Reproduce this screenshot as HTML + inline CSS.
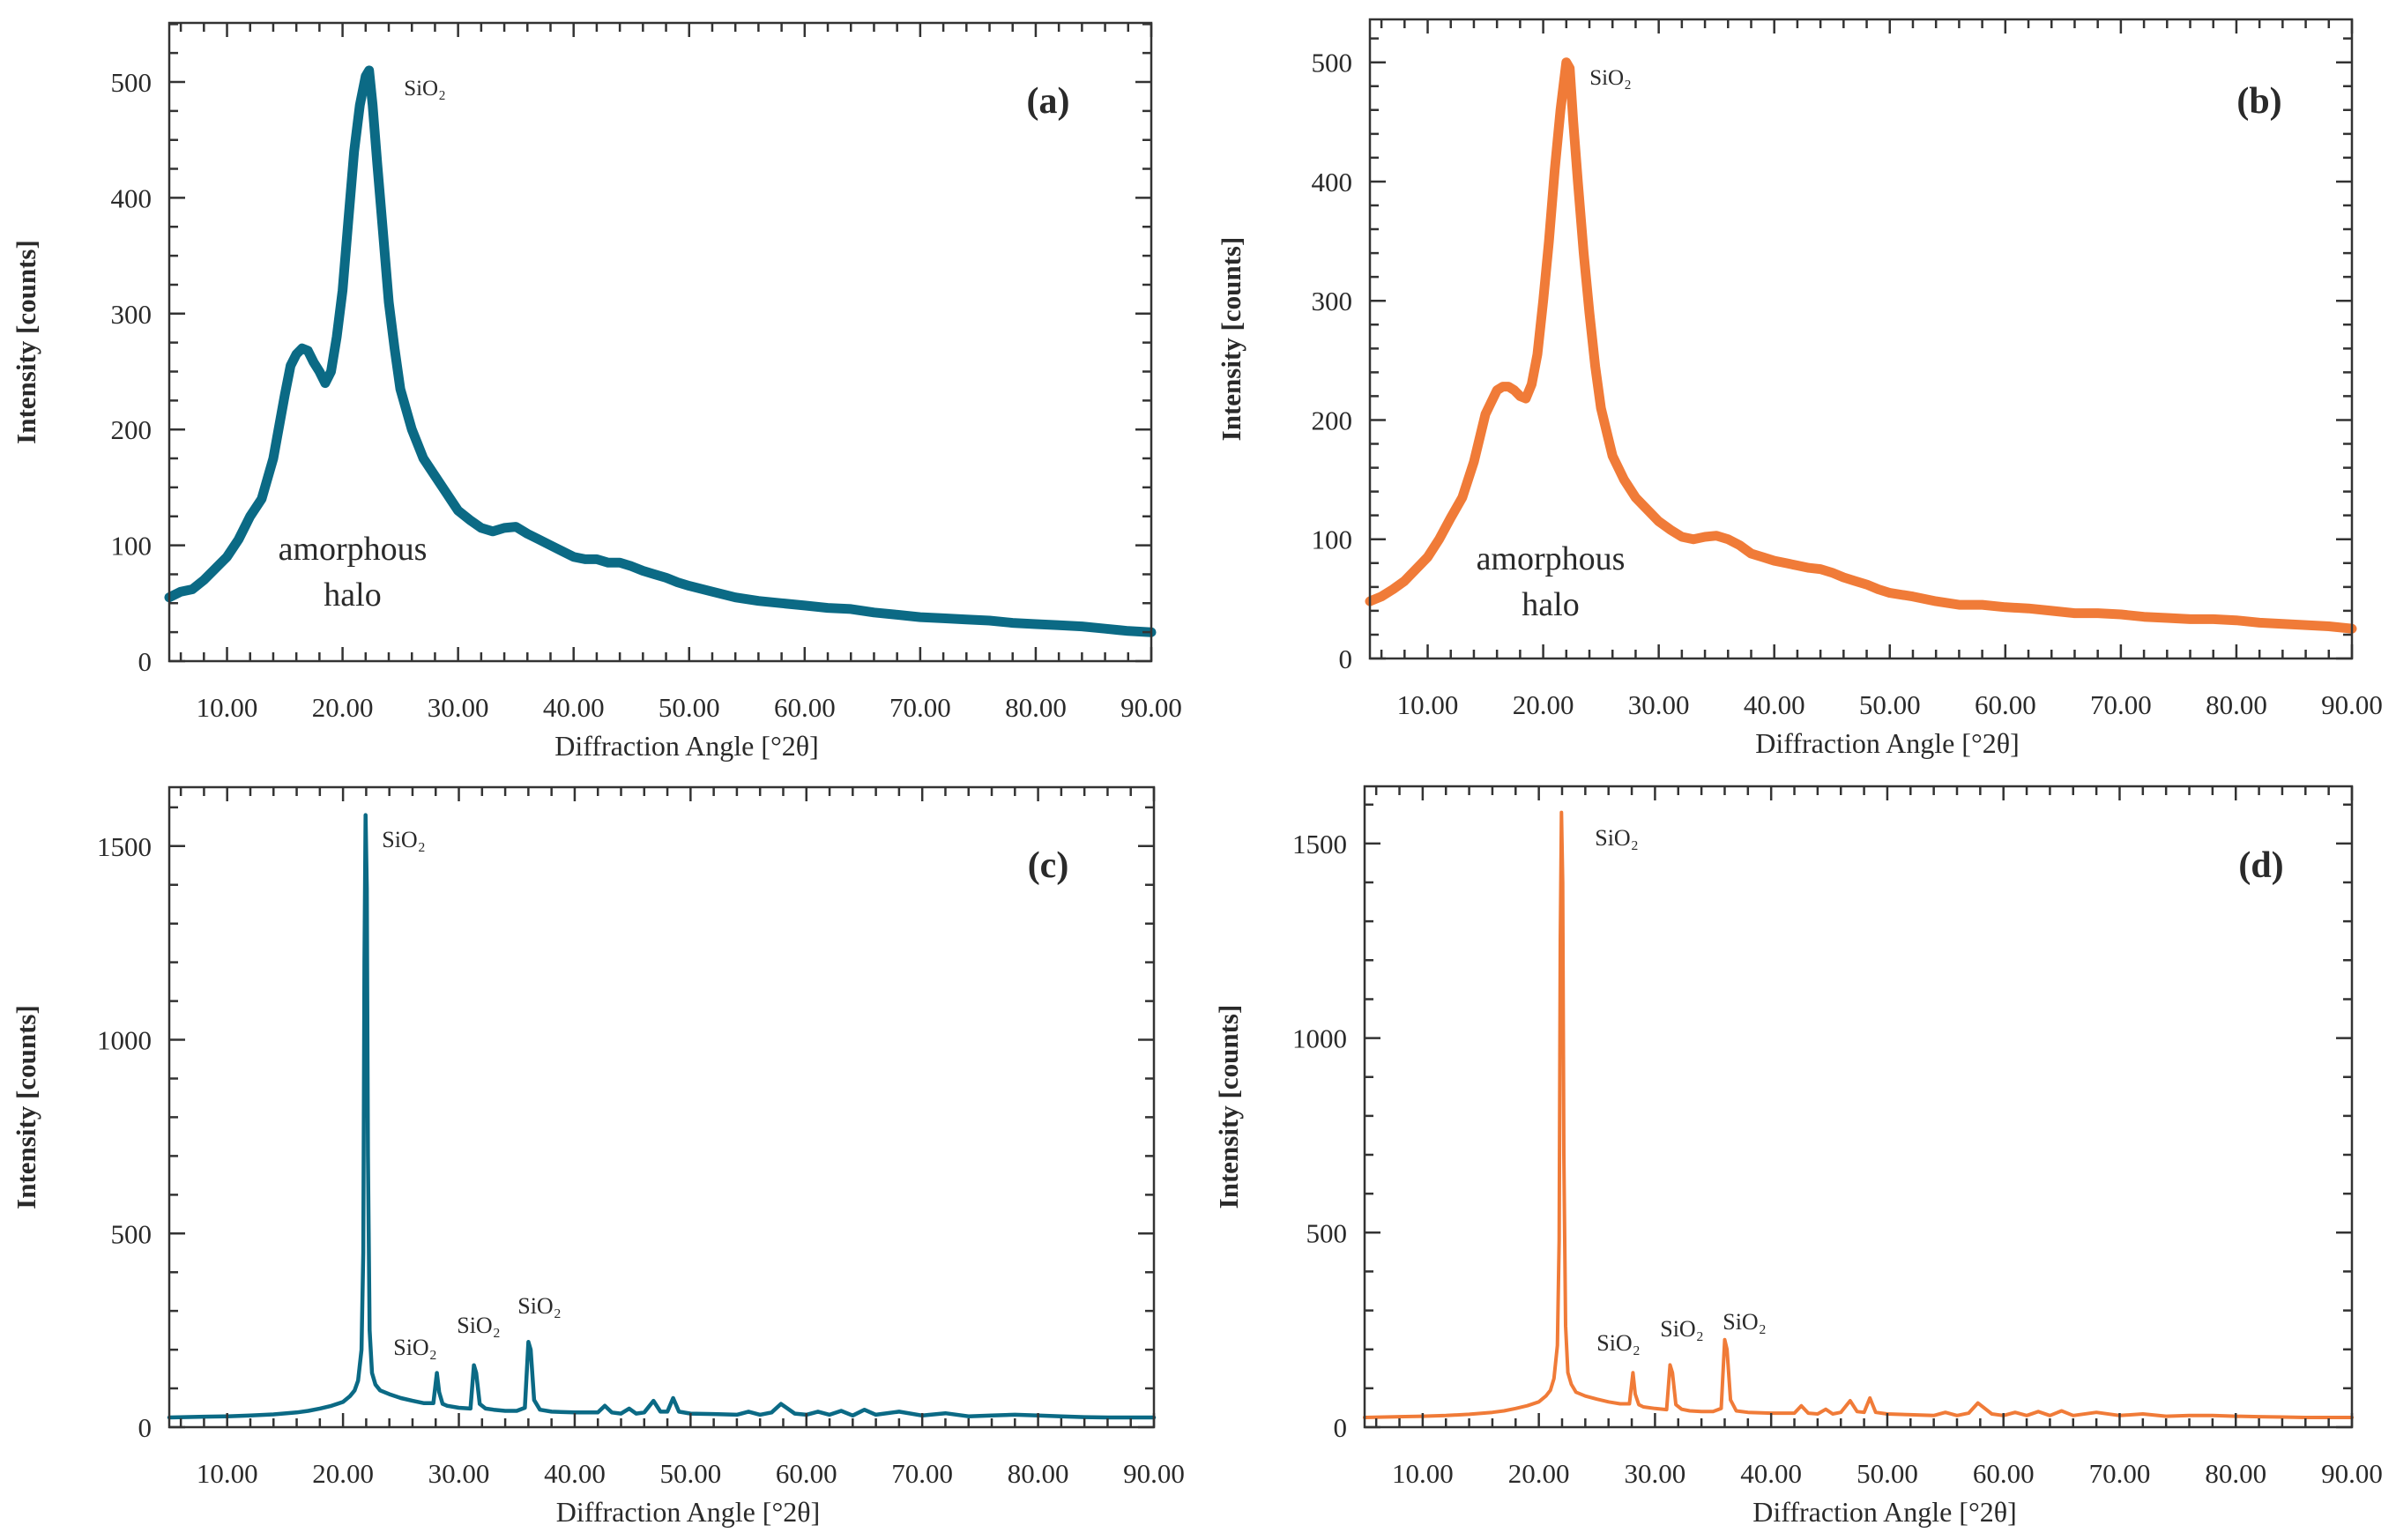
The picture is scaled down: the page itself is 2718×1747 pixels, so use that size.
<!DOCTYPE html>
<html><head><meta charset="utf-8"><style>
html,body{margin:0;padding:0;background:#fff;}
svg{display:block;}
text{font-family:"Liberation Serif",serif;fill:#2a2a2a;}
</style></head><body>
<svg id="fig" width="2718" height="1747" viewBox="0 0 2718 1747" xmlns="http://www.w3.org/2000/svg"></svg>
<script>
// ---- data (angle in °2θ, intensity in counts) ----
const xTicks = [10,20,30,40,50,60,70,80,90];
const xTickLabels = ["10.00","20.00","30.00","40.00","50.00","60.00","70.00","80.00","90.00"];
const yTicksAB = [0,100,200,300,400,500];
const yTicksCD = [0,500,1000,1500];

const angA = [5,6,7,8,9,10,11,12,13,14,15,15.5,16,16.5,17,17.5,18,18.5,19,19.5,20,20.5,21,21.5,22,22.3,22.6,23,23.5,24,24.5,25,26,27,28,29,30,31,32,33,34,35,36,37,38,39,40,41,42,43,44,45,46,47,48,49,50,52,54,56,58,60,62,64,66,68,70,72,74,76,78,80,82,84,86,88,90];
const intA = [55,60,62,70,80,90,105,125,140,175,230,255,265,270,268,258,250,240,250,280,320,380,440,480,505,510,480,430,370,310,270,235,200,175,160,145,130,122,115,112,115,116,110,105,100,95,90,88,88,85,85,82,78,75,72,68,65,60,55,52,50,48,46,45,42,40,38,37,36,35,33,32,31,30,28,26,25];

const angB = [5,6,7,8,9,10,11,12,13,14,15,15.5,16,16.5,17,17.5,18,18.5,19,19.5,20,20.5,21,21.5,22,22.3,22.6,23,23.5,24,24.5,25,26,27,28,29,30,31,32,33,34,35,36,37,38,39,40,41,42,43,44,45,46,47,48,49,50,52,54,56,58,60,62,64,66,68,70,72,74,76,78,80,82,84,86,88,90];
const intB = [48,52,58,65,75,85,100,118,135,165,205,215,225,228,228,225,220,218,230,255,300,350,410,460,500,495,450,400,340,290,245,210,170,150,135,125,115,108,102,100,102,103,100,95,88,85,82,80,78,76,75,72,68,65,62,58,55,52,48,45,45,43,42,40,38,38,37,35,34,33,33,32,30,29,28,27,25];

const angC = [5,8,10,12,14,16,17,18,19,20,20.6,21,21.3,21.6,21.75,21.85,21.95,22.05,22.15,22.3,22.5,22.8,23.2,24,25,26,27,27.8,28.1,28.3,28.6,29,30,31,31.3,31.5,31.8,32.3,33,34,35,35.7,36,36.2,36.5,37,38,40,42,42.6,43.2,44,44.7,45.3,46,46.8,47.4,48,48.5,49,50,52,54,55,56,57,57.8,59,60,61,62,63,64,65,66,68,70,72,74,76,78,80,82,84,86,88,90];
const intC = [25,27,28,30,33,38,42,48,55,65,80,95,120,200,450,1200,1580,1390,700,250,140,110,95,85,75,68,62,62,140,90,60,55,50,48,160,140,60,48,45,42,42,50,220,200,70,45,40,38,38,55,38,35,48,35,38,68,40,40,75,40,35,34,32,40,32,38,60,35,32,40,32,42,30,45,32,40,30,36,28,30,32,30,28,26,25,25,25];

const angD = [5,8,10,12,14,16,17,18,19,20,20.6,21,21.3,21.6,21.75,21.85,21.95,22.05,22.15,22.3,22.5,22.8,23.2,24,25,26,27,27.8,28.1,28.3,28.6,29,30,31,31.3,31.5,31.8,32.3,33,34,35,35.7,36,36.2,36.5,37,38,40,42,42.6,43.2,44,44.7,45.3,46,46.8,47.4,48,48.5,49,50,52,54,55,56,57,57.8,59,60,61,62,63,64,65,66,68,70,72,74,76,78,80,82,84,86,88,90];
const intD = [25,27,28,30,33,38,42,48,55,65,80,95,125,210,480,1250,1580,1400,700,260,140,110,90,80,72,65,60,60,140,85,58,52,48,45,160,140,58,46,42,40,40,48,225,200,70,42,38,36,36,55,36,34,46,34,38,68,40,38,75,38,34,32,30,38,30,36,62,34,30,38,30,40,30,42,30,38,30,34,28,30,30,28,27,26,25,25,25];

const svgNS = "http://www.w3.org/2000/svg";
const fig = document.getElementById('fig');
function mk(tag, attrs, parent){
  const e = document.createElementNS(svgNS, tag);
  for (const k in attrs) e.setAttribute(k, attrs[k]);
  (parent||fig).appendChild(e);
  return e;
}
function txt(parent, s, x, y, size, opts){
  const t = mk('text', Object.assign({x:x, y:y, 'font-size':size}, opts||{}), parent);
  t.textContent = s;
  return t;
}

function panel(p){
  const g = mk('g', {});
  
  
  const L=p.L, R=p.R, T=p.T, B=p.B;
  const sx = v => L + (v-5)/(90-5)*(R-L);
  const sy = v => B - v/p.ymax*(B-T);
  let d = '';
  for (let i=0;i<p.ang.length;i++) d += (i?'L':'M') + sx(p.ang[i]).toFixed(1) + ' ' + sy(p.ints[i]).toFixed(1);
  const line = mk('path', {d:d, fill:'none', stroke:p.color, 'stroke-width':p.sw, 'stroke-linejoin':'round', 'stroke-linecap':'round'}, g);
  
  
  const fr = mk('rect', {x:L, y:T, width:R-L, height:B-T, fill:'none', stroke:'#333', 'stroke-width':2.5}, g);
  
  
  let td = '';
  for (let v=6; v<=90; v+=2){
    const x = sx(v); const len = (v%10===0)?16:10;
    td += `M${x} ${B}V${B-len}M${x} ${T}V${T+len}`;
  }
  for (let v=0; v<=p.ymax; v+=p.minor){
    const y = sy(v); const major = (v % p.major === 0); const len = major?18:10;
    td += `M${L} ${y}H${L+len}M${R} ${y}H${R-len}`;
  }
  mk('path', {d:td, stroke:'#333', 'stroke-width':2.5, fill:'none'}, g);
  xTicks.forEach((v,i)=>{
    const t = txt(g, xTickLabels[i], sx(v), B+63, 31, {'text-anchor':'middle'});
    
    
  });
  p.yt.forEach(v=>{
    const t = txt(g, String(v), L-20, sy(v)+11, 31, {'text-anchor':'end'});
    
    
  });
  const xt = txt(g, 'Diffraction Angle [°2θ]', (L+R)/2+30, B+107, 32, {'text-anchor':'middle'});
  
  
  const cy = (T+B)/2;
  const yt = txt(g, 'Intensity [counts]', 0, 0, 31, {'text-anchor':'middle','font-weight':'bold', transform:`translate(${p.ytx},${cy}) rotate(-90)`});
  
  
  const pl = txt(g, '('+p.id+')', p.lab[0], p.lab[1], 42, {'text-anchor':'middle','font-weight':'bold'});
  
  
  p.sio.forEach(s=>{
    const t = txt(g, 'SiO₂', s[0], s[1], s[2], {'text-anchor':'middle'});
    
    
  });
  if (p.halo){
    const a = txt(g, 'amorphous', p.halo[0], p.halo[1], 38, {'text-anchor':'middle'});
    
    
    const h = txt(g, 'halo', p.halo[0], p.halo[1]+52, 38, {'text-anchor':'middle'});
    
    
  }
}

panel({id:'a', L:192, R:1306, T:26, B:750, ymax:551, major:100, minor:25, yt:yTicksAB, ang:angA, ints:intA, color:'#0b6a85', sw:11, ytx:40, lab:[1189,128], sio:[[482,108,25]], halo:[400,635]});
panel({id:'b', L:1554, R:2668, T:22, B:747, ymax:536, major:100, minor:20, yt:yTicksAB, ang:angB, ints:intB, color:'#f07b38', sw:11, ytx:1407, lab:[2563,128], sio:[[1827,96,25]], halo:[1759,646]});
panel({id:'c', L:192, R:1309, T:893, B:1619, ymax:1652, major:500, minor:100, yt:yTicksCD, ang:angC, ints:intC, color:'#0b6a85', sw:4.5, ytx:40, lab:[1189,995], sio:[[458,961,26],[471,1537,26],[543,1512,26],[612,1490,26]]});
panel({id:'d', L:1548, R:2668, T:892, B:1619, ymax:1647, major:500, minor:100, yt:yTicksCD, ang:angD, ints:intD, color:'#f07b38', sw:4, ytx:1404, lab:[2565,995], sio:[[1834,959,26],[1836,1532,26],[1908,1516,26],[1979,1508,26]]});
</script>
</body></html>
